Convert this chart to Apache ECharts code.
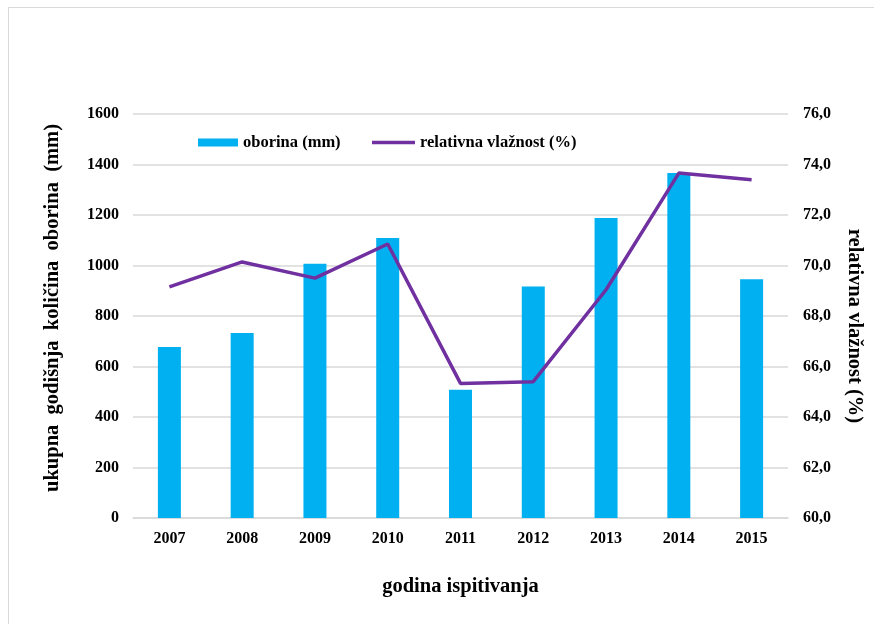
<!DOCTYPE html>
<html>
<head>
<meta charset="utf-8">
<script src="https://cdn.jsdelivr.net/npm/echarts@6/dist/echarts.min.js"></script>
<style>
html,body{margin:0;padding:0;background:#fff;}
#frame{position:absolute;left:8px;top:7px;width:900px;height:700px;border-top:1.5px solid #d9d9d9;border-left:1.5px solid #d9d9d9;}
#chart{position:absolute;left:0;top:0;width:874px;height:624px;}
</style>
</head>
<body>
<div id="frame"></div>
<div id="chart"></div>
<script>
const years = ['2007','2008','2009','2010','2011','2012','2013','2014','2015'];
const oborina = [677, 733, 1007, 1109, 508, 917, 1188, 1366, 946];
const vlaznost = [69.15, 70.14, 69.5, 70.85, 65.33, 65.4, 69.04, 73.66, 73.4];
const leftTicks = [0, 1600, 200];
const rightTicks = [60, 76, 2];

const font = '"Liberation Serif", "Times New Roman", serif';
const legendText = { fontFamily: font, fontWeight: 'bold', fontSize: 16.5, color: '#000' };
const tickText = { fontFamily: font, fontWeight: 'bold', fontSize: 16, color: '#000' };
const titleText = { fontFamily: font, fontWeight: 'bold', fontSize: 20.5, color: '#000' };
const chart = echarts.init(document.getElementById('chart'));
chart.setOption({
  animation: false,
  textStyle: { fontFamily: font },
  legend: [
    {
      left: 193, top: 129,
      itemWidth: 40, itemHeight: 8,
      textStyle: legendText,
      data: [{ name: 'oborina (mm)', icon: 'rect' }]
    },
    {
      left: 367, top: 129,
      itemWidth: 43, itemHeight: 3.5,
      textStyle: legendText,
      data: [{ name: 'relativna vlažnost (%)', icon: 'rect' }]
    }
  ],
  grid: { left: 133, right: 86, top: 114, bottom: 106 },
  xAxis: {
    type: 'category', data: years,
    name: 'godina ispitivanja', nameLocation: 'middle', nameGap: 58,
    nameTextStyle: titleText,
    axisLine: { lineStyle: { color: '#d9d9d9', width: 1.5 } },
    axisTick: { show: false },
    axisLabel: Object.assign({ margin: 13 }, tickText)
  },
  yAxis: [
    {
      type: 'value', min: leftTicks[0], max: leftTicks[1], interval: leftTicks[2],
      name: 'ukupna  godišnja  količina  oborina  (mm)', nameLocation: 'middle', nameGap: 70, nameRotate: 90,
      nameTextStyle: Object.assign({ padding: [0, 0, 0, 16] }, titleText),
      axisLine: { show: false }, axisTick: { show: false },
      axisLabel: Object.assign({ margin: 14, formatter: v => String(v) }, tickText),
      splitLine: { lineStyle: { color: '#d9d9d9', width: 1.5 } }
    },
    {
      type: 'value', min: rightTicks[0], max: rightTicks[1], interval: rightTicks[2],
      name: 'relativna vlažnost (%)', nameLocation: 'middle', nameGap: 56, nameRotate: -90,
      nameTextStyle: Object.assign({ padding: [0, 0, 0, 20] }, titleText),
      axisLine: { show: false }, axisTick: { show: false },
      axisLabel: Object.assign({ margin: 15, formatter: v => v.toFixed(1).replace('.', ',') }, tickText),
      splitLine: { show: false }
    }
  ],
  series: [
    {
      name: 'oborina (mm)', type: 'bar', data: oborina, yAxisIndex: 0,
      barWidth: 23, itemStyle: { color: '#00B0F0' }
    },
    {
      name: 'relativna vlažnost (%)', type: 'line', data: vlaznost, yAxisIndex: 1,
      symbol: 'none', lineStyle: { color: '#7030A0', width: 3.5 }, itemStyle: { color: '#7030A0' }
    }
  ]
});
</script>
</body>
</html>
